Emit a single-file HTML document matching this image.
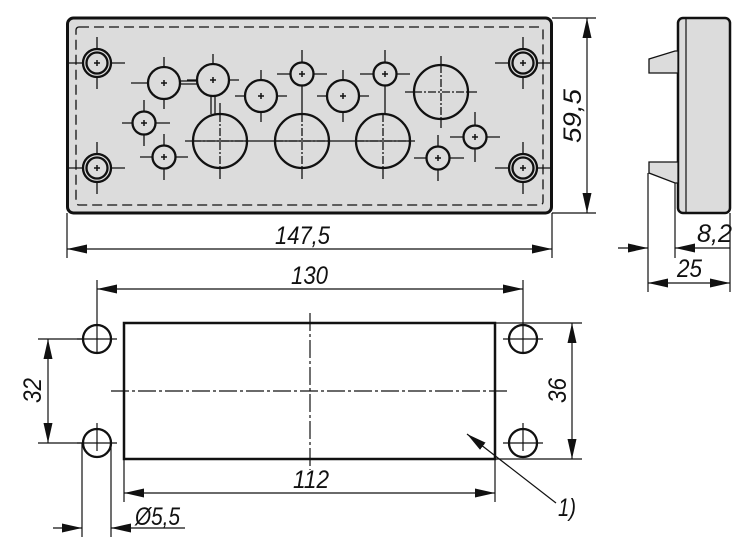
<!DOCTYPE html>
<html><head><meta charset="utf-8"><style>
html,body{margin:0;padding:0;background:#fff}
svg{display:block}
text{font-family:"Liberation Sans",sans-serif;font-style:italic;font-size:25px;fill:#111}
</style></head><body>
<svg width="750" height="555" viewBox="0 0 750 555" xmlns="http://www.w3.org/2000/svg">
<defs>
<marker id="a" viewBox="0 0 20 9" refX="20" refY="4.5" markerWidth="20" markerHeight="9" markerUnits="userSpaceOnUse" orient="auto-start-reverse"><path d="M0,0 L20,4.5 L0,9 Z" fill="#111"/></marker>
</defs>
<g stroke="#111" fill="none">
<rect x="67.5" y="18" width="484" height="195" rx="6" fill="#dcdcdc" stroke-width="3"/>
<rect x="76" y="27" width="467" height="178" rx="3" stroke-width="1.3" stroke-dasharray="10,5"/>
<g stroke-width="1.3">
<line x1="185" y1="141" x2="415" y2="141"/>
<line x1="180" y1="81" x2="197" y2="81"/><line x1="180" y1="84" x2="197" y2="84"/>
<line x1="211" y1="96" x2="211" y2="114"/><line x1="215" y1="96" x2="215" y2="114"/>
<line x1="302" y1="86" x2="302" y2="114"/>
<line x1="385" y1="86" x2="385" y2="114"/>
</g>
<g stroke-width="2.3">
<circle cx="97" cy="63" r="14"/><circle cx="97" cy="63" r="10.5"/>
<circle cx="97" cy="168" r="14"/><circle cx="97" cy="168" r="10.5"/>
<circle cx="523" cy="63" r="14"/><circle cx="523" cy="63" r="10.5"/>
<circle cx="523" cy="168" r="14"/><circle cx="523" cy="168" r="10.5"/>
<circle cx="164" cy="83" r="16"/>
<circle cx="213" cy="80" r="16"/>
<circle cx="261" cy="96" r="16"/>
<circle cx="302" cy="74" r="11.5"/>
<circle cx="343" cy="96" r="16"/>
<circle cx="385" cy="74" r="11.5"/>
<circle cx="441" cy="92" r="27"/>
<circle cx="144" cy="123" r="11.5"/>
<circle cx="164" cy="157" r="11.5"/>
<circle cx="220" cy="141" r="27"/>
<circle cx="302" cy="141" r="27"/>
<circle cx="383" cy="141" r="27"/>
<circle cx="438" cy="158" r="11.5"/>
<circle cx="475" cy="137" r="11.5"/>
</g>
<g stroke-width="1.3">
<path d="M69,63h14M111,63h14M97,37v12M97,77v12 M69,168h14M111,168h14M97,142v12M97,182v12
M495,63h14M537,63h14M523,37v12M523,77v12 M495,168h14M537,168h14M523,142v12M523,182v12
M131,83h17M164,57v10M164,99v10
M213,54v10M229,80h10M187,80h10
M235,96h10M277,96h10M261,70v10M261,112v10
M277,74h13M314,74h13M302,50v12
M317,96h10M359,96h10M343,70v10M343,112v10
M360,74h13M397,74h13M385,50v12
M405,92h9M468,92h9M441,56v9M441,119v9
M122,123h10M156,123h14M144,100v11M144,135v11
M140,157h12M176,157h12M164,134v11M164,169v11
M220,103v11M220,168v11
M302,168v11
M383,168v11
M414,158h12M450,158h14M438,135v11M438,170v11
M450,137h13M487,137h13M475,112v13M475,149v13"/>
<path d="M94,63h6M97,60v6 M94,168h6M97,165v6 M520,63h6M523,60v6 M520,168h6M523,165v6
M161,83h6M164,80v6 M210,80h6M213,77v6 M258,96h6M261,93v6 M299,74h6M302,71v6
M340,96h6M343,93v6 M382,74h6M385,71v6 M141,123h6M144,120v6 M161,157h6M164,154v6
M435,158h6M438,155v6 M472,137h6M475,134v6" stroke-width="1.5"/>
<path d="M414,92h54M441,65v54 M193,141h54M220,114v54 M275,141h54M302,114v54 M356,141h54M383,114v54" stroke-dasharray="8,2,2,2"/>
</g>
<rect x="678" y="18" width="52" height="195" rx="5" fill="#dcdcdc" stroke-width="2.5"/>
<line x1="686" y1="19" x2="686" y2="212" stroke-width="1.2"/>
<path d="M649,59 L675,51 L678,51 L678,73 L649,73 Z" fill="#dcdcdc" stroke-width="1.3"/>
<path d="M649,162 L678,162 L678,183 L675,183 L649,173 Z" fill="#dcdcdc" stroke-width="1.3"/>
<line x1="648" y1="173" x2="648" y2="292" stroke-width="1.2"/>
<line x1="675" y1="183" x2="675" y2="258" stroke-width="1.2"/>
<line x1="730" y1="213" x2="730" y2="292" stroke-width="1.2"/>
<line x1="618" y1="248" x2="648" y2="248" stroke-width="1.2" marker-end="url(#a)"/>
<line x1="675" y1="248" x2="730" y2="248" stroke-width="1.2" marker-start="url(#a)"/>
<line x1="648" y1="283" x2="730" y2="283" stroke-width="1.2" marker-start="url(#a)" marker-end="url(#a)"/>
<g stroke-width="1.2">
<line x1="67" y1="213" x2="67" y2="258"/>
<line x1="552" y1="213" x2="552" y2="258"/>
<line x1="67" y1="249" x2="552" y2="249" marker-start="url(#a)" marker-end="url(#a)"/>
<line x1="552" y1="18" x2="596" y2="18"/>
<line x1="552" y1="213" x2="596" y2="213"/>
<line x1="587" y1="18" x2="587" y2="213" marker-start="url(#a)" marker-end="url(#a)"/>
</g>
<rect x="124" y="323" width="371" height="136" stroke-width="2.5"/>
<g stroke-width="1.2">
<path d="M111,391H510 M310,313V470" stroke-dasharray="18,3,3,3"/>
</g>
<g stroke-width="2.3">
<circle cx="97" cy="339" r="14"/><circle cx="97" cy="443" r="14"/>
<circle cx="523" cy="339" r="14"/><circle cx="523" cy="443" r="14"/>
</g>
<g stroke-width="1.2">
<path d="M77,339h40M97,325v28 M77,443h40M97,423v28 M503,339h40M523,325v28 M503,443h40M523,423v28"/>
<line x1="97" y1="280" x2="97" y2="325"/>
<line x1="523" y1="280" x2="523" y2="325"/>
<line x1="97" y1="289" x2="523" y2="289" marker-start="url(#a)" marker-end="url(#a)"/>
<line x1="124" y1="459" x2="124" y2="502"/>
<line x1="495" y1="459" x2="495" y2="502"/>
<line x1="124" y1="493" x2="495" y2="493" marker-start="url(#a)" marker-end="url(#a)"/>
<line x1="38" y1="339" x2="83" y2="339"/>
<line x1="38" y1="443" x2="83" y2="443"/>
<line x1="48" y1="339" x2="48" y2="443" marker-start="url(#a)" marker-end="url(#a)"/>
<line x1="495" y1="323" x2="582" y2="323"/>
<line x1="495" y1="459" x2="582" y2="459"/>
<line x1="572" y1="323" x2="572" y2="459" marker-start="url(#a)" marker-end="url(#a)"/>
<line x1="82" y1="443" x2="82" y2="537"/>
<line x1="111" y1="443" x2="111" y2="537"/>
<line x1="53" y1="528" x2="82" y2="528" marker-end="url(#a)"/>
<line x1="185" y1="528" x2="111" y2="528" marker-end="url(#a)"/>
<line x1="556" y1="503" x2="467" y2="434" marker-end="url(#a)"/>
</g>
</g>
<text x="275" y="244" textLength="55" lengthAdjust="spacingAndGlyphs">147,5</text>
<text transform="translate(581,116) rotate(-90)" x="-27" textLength="54" lengthAdjust="spacingAndGlyphs">59,5</text>
<text x="697" y="242" textLength="35" lengthAdjust="spacingAndGlyphs">8,2</text>
<text x="677" y="277" textLength="25" lengthAdjust="spacingAndGlyphs">25</text>
<text x="291" y="284" textLength="37" lengthAdjust="spacingAndGlyphs">130</text>
<text x="293" y="488" textLength="36" lengthAdjust="spacingAndGlyphs">112</text>
<text transform="translate(41,391) rotate(-90)" x="-12" textLength="25" lengthAdjust="spacingAndGlyphs">32</text>
<text transform="translate(566,391) rotate(-90)" x="-12" textLength="25" lengthAdjust="spacingAndGlyphs">36</text>
<text x="135" y="525" textLength="45" lengthAdjust="spacingAndGlyphs">Ø5,5</text>
<text x="558" y="516" textLength="18" lengthAdjust="spacingAndGlyphs">1)</text>
</svg>
</body></html>
